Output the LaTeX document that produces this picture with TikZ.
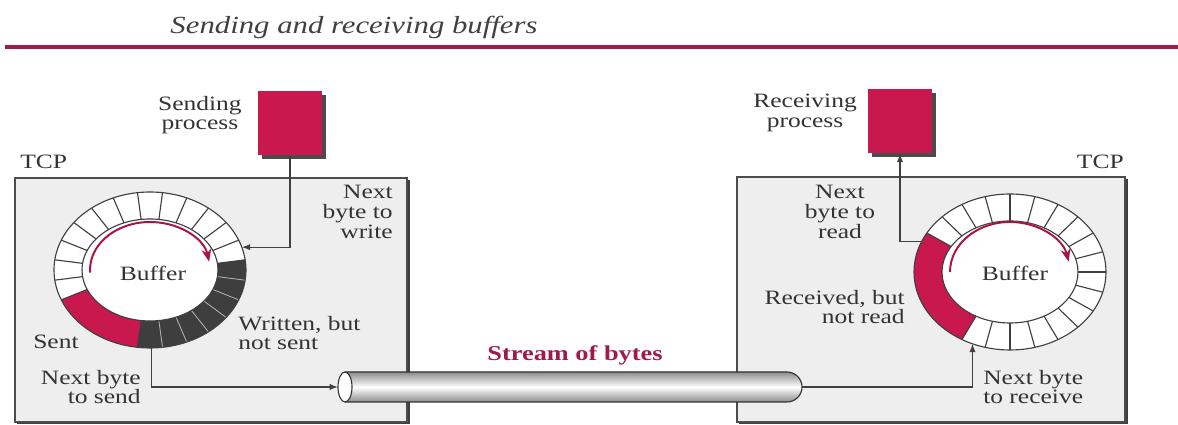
\documentclass[tikz,border=0pt]{standalone}
\usepackage{fontspec}
\setmainfont{Liberation Serif}[FakeStretch=1.25]
\usepackage{tikz}
\usetikzlibrary{arrows.meta,shadows}
\definecolor{procred}{RGB}{200,24,78}
\definecolor{rulered}{RGB}{160,28,70}
\definecolor{darkcell}{RGB}{62,62,62}
\definecolor{boxgray}{RGB}{238,238,238}

\begin{document}
\begin{tikzpicture}[x=0.025cm,y=0.025cm,>={Latex[length=6pt,width=4.5pt]},tcpbox/.style={rectangle,draw=black!70,line width=0.8pt,fill=boxgray,drop shadow={shadow xshift=1.8pt,shadow yshift=-1.5pt,fill=black!75,opacity=1}},proc/.style={rectangle,fill=procred,minimum width=1.6cm,minimum height=1.6cm,drop shadow={shadow xshift=2.5pt,shadow yshift=-2.5pt,fill=black!70,opacity=1}},lbl/.style={font=\fontsize{14.5}{14}\selectfont,text=black!80,inner sep=0pt},link/.style={->,line width=0.8pt,draw=black!75},flow/.style={-{Stealth[length=9pt,width=7pt]},line width=1.4pt,draw=procred!85!black},ring/.style={black!75,line width=0.8pt}]
\useasboundingbox (0,0) rectangle (1178,425);
\node[font=\fontsize{17.5}{19}\selectfont\itshape,text=black!75] (title) at (354,398) {Sending and receiving buffers};
\draw[rulered,line width=3pt] (5,378) -- (1178,378);
\node[tcpbox,minimum width=9.8cm,minimum height=6.1cm] (sendtcp) at (211,125) {};
\node[tcpbox,minimum width=9.7cm,minimum height=6.125cm] (recvtcp) at (931,125.5) {};
\node[lbl,anchor=base west] (sendtcplbl) at (20,256) {TCP};
\node[lbl,anchor=base east] (recvtcplbl) at (1124,256) {TCP};
\node[proc] (sendproc) at (290,301.5) {};
\node[proc] (recvproc) at (900,303.5) {};
\node[lbl,align=center,anchor=east] (sendlbl) at (242,310) {Sending\\process};
\node[lbl,align=center,anchor=east] (recvlbl) at (857,312) {Receiving\\process};
\coordinate (lring) at (150,155);
\coordinate (rring) at (1010,153);
\begin{scope}[shift={(lring)}]
\fill[white] (0,0) ellipse [x radius=96,y radius=78];
\fill[procred] (202.5:96 and 78) arc[start angle=202.5,end angle=262.5,x radius=96,y radius=78] -- (262.5:68 and 51) arc[start angle=262.5,end angle=202.5,x radius=68,y radius=51] -- cycle;
\fill[darkcell] (262.5:96 and 78) arc[start angle=262.5,end angle=367.5,x radius=96,y radius=78] -- (367.5:68 and 51) arc[start angle=367.5,end angle=262.5,x radius=68,y radius=51] -- cycle;
\foreach \a in {7.5,22.5,...,202.5,262.5} \draw[ring] (\a:68 and 51) -- (\a:96 and 78);
\foreach \a in {277.5,292.5,...,352.5} \draw[gray!60,line width=0.6pt] (\a:68 and 51) -- (\a:96 and 78);
\draw[ring] (0,0) ellipse [x radius=96,y radius=78] (0,0) ellipse [x radius=68,y radius=51];
\node[lbl] (lbuf) at (3,-3) {Buffer};
\draw[flow] (183:60 and 48) arc[start angle=183,end angle=10,x radius=60,y radius=48];
\coordinate (wpt) at (17:96 and 78);
\coordinate (spt) at (271:96 and 78);
\end{scope}
\begin{scope}[shift={(rring)}]
\fill[white] (0,0) ellipse [x radius=96,y radius=78];
\fill[procred] (150:96 and 78) arc[start angle=150,end angle=240,x radius=96,y radius=78] -- (240:68 and 51) arc[start angle=240,end angle=150,x radius=68,y radius=51] -- cycle;
\foreach \a in {0,15,...,150,240,255,...,345} \draw[ring] (\a:68 and 51) -- (\a:96 and 78);
\draw[ring] (0,0) ellipse [x radius=96,y radius=78] (0,0) ellipse [x radius=68,y radius=51];
\node[lbl] (rbuf) at (5,-1) {Buffer};
\draw[flow] (180:60 and 50) arc[start angle=180,end angle=12,x radius=60,y radius=50];
\coordinate (rpt) at (247:96 and 78);
\coordinate (dpt) at (157:96 and 78);
\end{scope}
\coordinate (pipein) at (338,38);
\coordinate (pipeout) at (802,38);
\shade[top color=black!45,bottom color=black!45,middle color=white] (345,23) -- (787,23) arc[start angle=-90,end angle=90,radius=15] -- (345,53) -- cycle;
\draw[black!80,line width=0.8pt] (345,53) -- (787,53) arc[start angle=90,end angle=-90,radius=15] -- (345,23);
\filldraw[fill=white,draw=black!80,line width=0.8pt] (345,38) ellipse [x radius=7,y radius=15];
\node[font=\fontsize{15}{16}\selectfont\bfseries,text=rulered] (streamlbl) at (575,70) {Stream of bytes};
\draw[link] (sendproc.south) |- (wpt);
\draw[link] (spt) |- (pipein);
\draw[link] (pipeout) -| (rpt);
\draw[link] (dpt) -| (recvproc.south);
\node[lbl,align=right,anchor=east] (writelbl) at (393,213) {Next\\byte to\\write};
\node[lbl,align=left,anchor=west] (unsentlbl) at (238,92) {Written, but\\not sent};
\node[lbl,anchor=west] (sentlbl) at (33,83) {Sent};
\node[lbl,align=right,anchor=east] (sendnextlbl) at (141,38) {Next byte\\to send};
\node[lbl,align=center] (readlbl) at (840,213) {Next\\byte to\\read};
\node[lbl,align=right,anchor=east] (unreadlbl) at (905,118) {Received, but\\not read};
\node[lbl,align=left,anchor=west] (recvnextlbl) at (983,38) {Next byte\\to receive};
\end{tikzpicture}
\end{document}
